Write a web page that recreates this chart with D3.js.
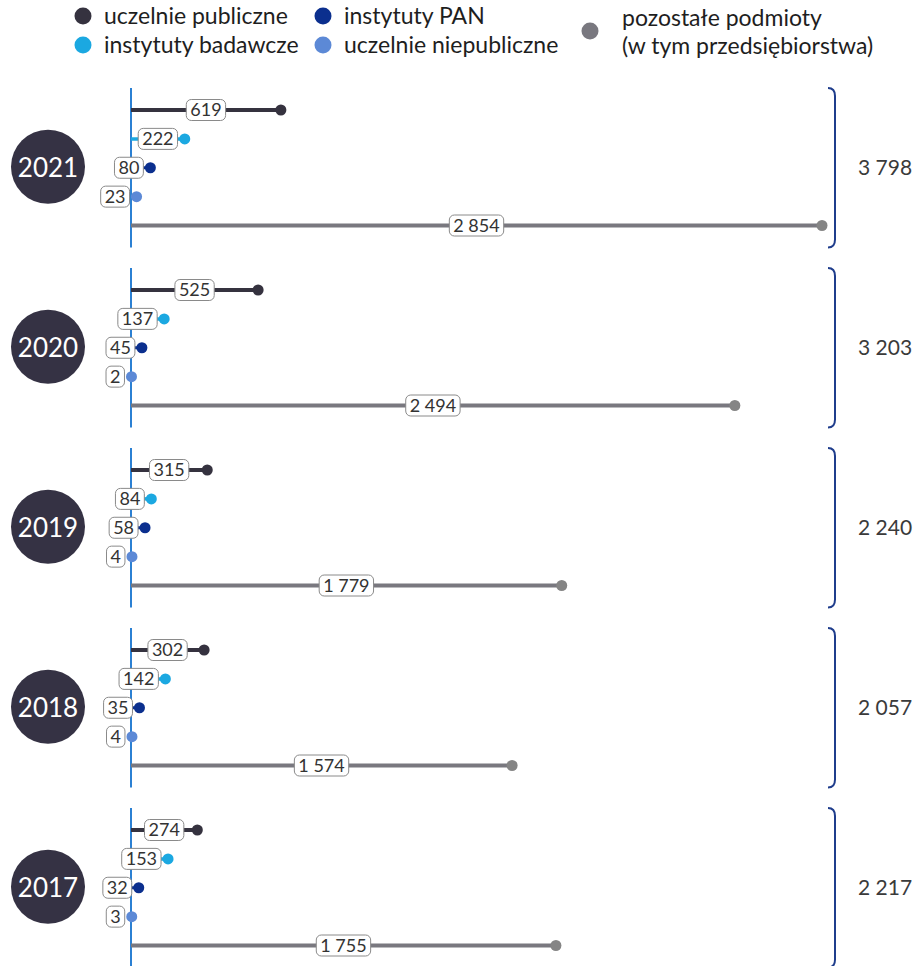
<!DOCTYPE html>
<html lang="pl">
<head>
<meta charset="utf-8">
<script src="https://cdn.jsdelivr.net/npm/d3@7"></script>
<style>
  html, body { margin: 0; padding: 0; background: #fff; }
  svg { display: block; font-family: Lato, "Open Sans", sans-serif; }
</style>
</head>
<body>
<svg id="chart" width="916" height="966"></svg>
<script>
// Years shown, newest first
const years = ["2021", "2020", "2019", "2018", "2017"];

// Series names (legend order follows row order inside each year)
const seriesNames = [
  "uczelnie publiczne",
  "instytuty badawcze",
  "instytuty PAN",
  "uczelnie niepubliczne",
  "pozostałe podmioty (w tym przedsiębiorstwa)"
];

// Values per series, aligned with years
const uczelniePubliczne = [619, 525, 315, 302, 274];
const instytutyBadawcze = [222, 137, 84, 142, 153];
const instytutyPAN = [80, 45, 58, 35, 32];
const uczelnieNiepubliczne = [23, 2, 4, 4, 3];
const pozostalePodmioty = [2854, 2494, 1779, 1574, 1755];

// Year totals
const totals = [3798, 3203, 2240, 2057, 2217];

const seriesValues = [uczelniePubliczne, instytutyBadawcze, instytutyPAN, uczelnieNiepubliczne, pozostalePodmioty];
const colors = ["#35323f", "#1ba8e1", "#0b2f8e", "#5c89d6", "#79787f"];
const lineWidths = [4, 3.5, 3, 3, 4];

const plLocale = d3.formatLocale({ decimal: ",", thousands: " ", grouping: [3], currency: ["", " zł"] });
const fmt = plLocale.format(",d");

const svg = d3.select("#chart");

// ---- Legend ----
const legend = svg.append("g").attr("class", "legend");
const legendItems = [
  { s: 0, cx: 83, cy: 16, lines: ["uczelnie publiczne"] },
  { s: 1, cx: 83, cy: 45, lines: ["instytuty badawcze"] },
  { s: 2, cx: 323, cy: 16, lines: ["instytuty PAN"] },
  { s: 3, cx: 323, cy: 45, lines: ["uczelnie niepubliczne"] },
  { s: 4, cx: 590, cy: 31, lines: ["pozostałe podmioty", "(w tym przedsiębiorstwa)"] }
];
legendItems.forEach(it => {
  legend.append("circle")
    .attr("cx", it.cx).attr("cy", it.cy).attr("r", 8.5)
    .attr("fill", colors[it.s]);
  const multi = it.lines.length > 1;
  const tx = it.cx + (multi ? 32 : 21);
  const t = legend.append("text")
    .attr("x", tx)
    .attr("y", multi ? 18 : it.cy)
    .attr("font-size", 23)
    .attr("fill", "#1e1e1e");
  it.lines.forEach((ln, i) => {
    t.append("tspan").attr("x", tx).attr("dy", i === 0 ? "0.35em" : 28).text(ln);
  });
});

// ---- Scales ----
const x = d3.scaleLinear()
  .domain([0, d3.max(pozostalePodmioty)])
  .range([131, 822]);

const yYear = d3.scalePoint().domain(years).range([110, 830]);
const yRow = d3.scalePoint().domain(d3.range(seriesNames.length)).range([0, 115.5]);

const plot = svg.append("g").attr("class", "plot");

years.forEach((year, yi) => {
  const g = plot.append("g").attr("class", "year-" + year);
  const top = yYear(year);
  const rowY = s => top + yRow(s);
  const midY = rowY(2);

  // year badge
  g.append("circle")
    .attr("cx", 48).attr("cy", midY - 1).attr("r", 37)
    .attr("fill", "#353244");
  g.append("text")
    .attr("x", 48).attr("y", midY)
    .attr("dy", "0.35em")
    .attr("text-anchor", "middle")
    .attr("font-size", 26)
    .attr("fill", "#ffffff")
    .text(year);

  // baseline (zero) axis segment
  g.append("line")
    .attr("x1", x(0)).attr("x2", x(0))
    .attr("y1", rowY(0) - 22).attr("y2", rowY(4) + 22)
    .attr("stroke", "#2b80d3").attr("stroke-width", 2);

  // lollipop stems
  seriesValues.forEach((vals, s) => {
    g.append("line")
      .attr("x1", x(0)).attr("x2", x(vals[yi]))
      .attr("y1", rowY(s)).attr("y2", rowY(s))
      .attr("stroke", colors[s]).attr("stroke-width", lineWidths[s]);
  });

  // value labels
  seriesValues.forEach((vals, s) => {
    const v = vals[yi];
    const lg = g.append("g");
    const txt = lg.append("text")
      .attr("y", rowY(s))
      .attr("dy", "0.35em")
      .attr("text-anchor", "middle")
      .attr("font-size", 18)
      .attr("fill", "#333333")
      .text(fmt(v));
    const w = txt.node().getComputedTextLength() + 8;
    const h = 21;
    const dotX = x(v);
    let cx = (x(0) + dotX) / 2;
    const maxRight = dotX - 7;
    if (cx + w / 2 > maxRight) cx = maxRight - w / 2;
    txt.attr("x", cx);
    lg.insert("rect", "text")
      .attr("x", cx - w / 2).attr("y", rowY(s) - h / 2)
      .attr("width", w).attr("height", h)
      .attr("rx", 5).attr("ry", 5)
      .attr("fill", "#ffffff")
      .attr("stroke", "#8a8a8a").attr("stroke-width", 1);
  });

  // lollipop heads
  seriesValues.forEach((vals, s) => {
    g.append("circle")
      .attr("cx", x(vals[yi])).attr("cy", rowY(s))
      .attr("r", 5.5)
      .attr("fill", s === 4 ? "#858585" : colors[s]);
  });

  // bracket with year total
  const bx = 835, by0 = rowY(0) - 22, by1 = rowY(4) + 22;
  g.append("path")
    .attr("d", `M${bx - 7},${by0} Q${bx},${by0} ${bx},${by0 + 8} L${bx},${by1 - 8} Q${bx},${by1} ${bx - 7},${by1}`)
    .attr("fill", "none")
    .attr("stroke", "#1f3d8c").attr("stroke-width", 2);
  g.append("text")
    .attr("x", 858).attr("y", midY)
    .attr("dy", "0.35em")
    .attr("font-size", 21)
    .attr("fill", "#3a3a3a")
    .text(fmt(totals[yi]));
});
</script>
</body>
</html>
